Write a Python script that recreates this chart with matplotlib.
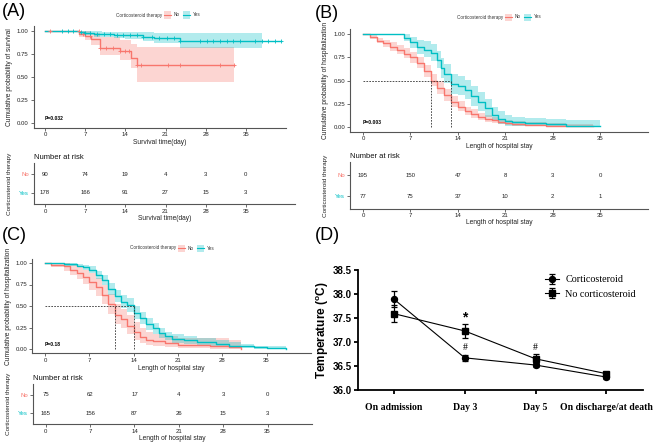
import matplotlib
matplotlib.use('Agg')
import matplotlib.pyplot as plt
import numpy as np
from matplotlib.lines import Line2D
from matplotlib.patches import Rectangle

# ---------------- data ----------------
RED = '#F8766D'
TEAL = '#00BFC4'
groups = ['No', 'Yes']
risk_days = [0, 7, 14, 21, 28, 35]

# Panel A: survival
a_no_t = [0, 6, 7, 8, 9.5, 13, 15, 16, 33]
a_no_s = [1.0, 0.965, 0.95, 0.91, 0.82, 0.78, 0.71, 0.63, 0.63]
a_no_lo = [1.0, 0.93, 0.90, 0.85, 0.74, 0.69, 0.60, 0.45, 0.45]
a_no_hi = [1.0, 1.0, 1.0, 0.98, 0.93, 0.90, 0.86, 0.83, 0.83]
a_no_cens = [0.9, 5.9, 6.6, 7.8, 9.6, 10.7, 11.9, 13.1, 13.9, 14.6, 16.0, 16.8, 21.5, 23.5, 30.5, 33]
a_yes_t = [0, 6, 7, 8.5, 10, 12, 14, 17, 19, 23.5, 41.2]
a_yes_s = [1.0, 0.99, 0.98, 0.97, 0.965, 0.96, 0.955, 0.94, 0.92, 0.89, 0.89]
a_yes_lo = [1.0, 0.97, 0.96, 0.94, 0.93, 0.92, 0.91, 0.89, 0.87, 0.81, 0.81]
a_yes_hi = [1.0, 1.0, 1.0, 0.995, 0.99, 0.99, 0.99, 0.985, 0.98, 0.98, 0.98]
a_yes_band_end = 37.8
a_yes_cens = [2.9, 3.95, 4.9, 6.2, 7.0, 7.8, 9.0, 10.2, 11.3, 12.5, 13.6, 14.8, 16.0, 17.1, 18.6,
              19.9, 21.2, 22.4, 23.5, 27.0, 28.2, 29.3, 30.5, 31.7, 32.8, 34.0, 36.6, 37.8, 38.9, 40.1, 41.2]
a_risk_no = [90, 74, 19, 4, 3, 0]
a_risk_yes = [178, 166, 91, 27, 15, 3]

# Panel B: hospitalization
b_no_t = [0, 1, 2, 3, 4, 5, 6, 7, 8, 9, 10, 11, 12, 13, 14, 15, 16, 17, 18, 19, 20, 21, 22, 24, 27, 30, 34]
b_no_s = [1.0, 0.97, 0.93, 0.90, 0.86, 0.83, 0.79, 0.75, 0.69, 0.60, 0.50, 0.42, 0.34, 0.27, 0.22, 0.17,
          0.14, 0.11, 0.09, 0.07, 0.05, 0.04, 0.03, 0.02, 0.015, 0.01, 0.005]
b_no_lo = [1.0, 0.95, 0.90, 0.86, 0.82, 0.78, 0.74, 0.69, 0.63, 0.54, 0.44, 0.36, 0.28, 0.22, 0.17, 0.13,
           0.10, 0.07, 0.05, 0.04, 0.03, 0.02, 0.01, 0.005, 0.003, 0.001, 0.0]
b_no_hi = [1.0, 0.99, 0.96, 0.94, 0.91, 0.88, 0.85, 0.81, 0.75, 0.67, 0.57, 0.49, 0.41, 0.33, 0.28, 0.22,
           0.19, 0.15, 0.13, 0.11, 0.09, 0.07, 0.06, 0.05, 0.04, 0.035, 0.03]
b_yes_t = [0, 6, 7, 8, 9, 10, 11, 11.5, 12, 13, 14, 15, 16, 17, 18, 19, 20, 21, 22, 24, 27, 30, 35]
b_yes_s = [1.0, 0.96, 0.91, 0.86, 0.83, 0.80, 0.72, 0.63, 0.57, 0.46, 0.44, 0.40, 0.33, 0.27, 0.20, 0.13,
           0.09, 0.06, 0.05, 0.04, 0.03, 0.015, 0.013]
b_yes_lo = [1.0, 0.92, 0.85, 0.79, 0.75, 0.71, 0.63, 0.53, 0.47, 0.36, 0.34, 0.30, 0.23, 0.17, 0.11, 0.06,
            0.03, 0.015, 0.01, 0.005, 0.002, 0.0, 0.0]
b_yes_hi = [1.0, 1.0, 0.97, 0.94, 0.92, 0.89, 0.82, 0.74, 0.68, 0.57, 0.55, 0.51, 0.44, 0.38, 0.30, 0.22,
            0.17, 0.13, 0.11, 0.10, 0.09, 0.07, 0.06]
b_medians = [10, 13]
b_risk_no = [195, 150, 47, 8, 3, 0]
b_risk_yes = [77, 75, 37, 10, 2, 1]

# Panel C: hospitalization
c_no_t = [0, 1, 3, 4, 5, 6, 7, 8, 9, 10, 11, 12, 13, 14, 15, 16, 17, 19, 21, 26, 29, 31]
c_no_s = [1.0, 0.98, 0.96, 0.92, 0.88, 0.84, 0.78, 0.72, 0.63, 0.52, 0.40, 0.35, 0.27, 0.20, 0.14, 0.11,
          0.09, 0.07, 0.05, 0.04, 0.02, 0.0]
c_no_lo = [1.0, 0.95, 0.91, 0.86, 0.81, 0.76, 0.69, 0.62, 0.52, 0.41, 0.29, 0.24, 0.17, 0.11, 0.07, 0.05,
           0.03, 0.02, 0.01, 0.005, 0.0, 0.0]
c_no_hi = [1.0, 1.0, 1.0, 0.98, 0.95, 0.92, 0.88, 0.83, 0.75, 0.64, 0.52, 0.47, 0.39, 0.31, 0.24, 0.20,
           0.17, 0.15, 0.13, 0.13, 0.11, 0.08]
c_yes_t = [0, 3, 5, 6, 7, 8, 9, 10, 11, 12, 13, 14, 15, 16, 17, 18, 19, 20, 22, 24, 27, 29, 31, 33, 35, 38]
c_yes_s = [1.0, 0.99, 0.97, 0.95, 0.92, 0.86, 0.80, 0.70, 0.62, 0.55, 0.51, 0.42, 0.36, 0.29, 0.24, 0.19,
           0.15, 0.12, 0.10, 0.08, 0.06, 0.04, 0.03, 0.02, 0.01, 0.005]
c_yes_lo = [1.0, 0.97, 0.95, 0.92, 0.88, 0.81, 0.74, 0.63, 0.55, 0.48, 0.43, 0.35, 0.29, 0.22, 0.18, 0.13,
            0.10, 0.07, 0.06, 0.04, 0.03, 0.015, 0.008, 0.003, 0.0, 0.0]
c_yes_hi = [1.0, 1.0, 0.99, 0.98, 0.96, 0.91, 0.86, 0.77, 0.69, 0.63, 0.59, 0.50, 0.43, 0.36, 0.30, 0.25,
            0.20, 0.17, 0.15, 0.13, 0.10, 0.08, 0.06, 0.04, 0.03, 0.02]
c_medians = [11, 14]
c_risk_no = [75, 62, 17, 4, 3, 0]
c_risk_yes = [165, 156, 87, 26, 15, 3]

# Panel D: temperature
d_categories = ['On admission', 'Day 3', 'Day 5', 'On discharge/at death']
d_cort_mean = [37.89, 36.67, 36.52, 36.27]
d_cort_err = [0.17, 0.06, 0.05, 0.04]
d_nocort_mean = [37.59, 37.23, 36.65, 36.34]
d_nocort_err = [0.18, 0.15, 0.09, 0.04]

# ---------------- layout helpers ----------------
W, H = 667, 442
fig = plt.figure(figsize=(6.67, 4.42), dpi=100)
SANS = ['Liberation Sans', 'DejaVu Sans']
SERIF = ['Liberation Serif', 'DejaVu Serif']
plt.rcParams['font.family'] = SANS


def box(l, t, r, b):
    return [l / W, 1 - b / H, (r - l) / W, (b - t) / H]


def fx(x):
    return x / W


def fy(y):
    return 1 - y / H


AX_COL = '#555555'


def style_km_axes(ax, xlim, ylim):
    ax.set_xlim(*xlim)
    ax.set_ylim(*ylim)
    for sp in ['top', 'right']:
        ax.spines[sp].set_visible(False)
    for sp in ['left', 'bottom']:
        ax.spines[sp].set_color(AX_COL)
        ax.spines[sp].set_linewidth(0.8)
    ax.tick_params(length=2, width=0.6, color=AX_COL, labelsize=4.3, pad=1.5, labelcolor='#222222')
    ax.set_xticks(risk_days)


def draw_km(ax, t, s, lo, hi, color, band_end=None):
    t = np.asarray(t, float)
    s = np.asarray(s, float)
    lo = np.asarray(lo, float)
    hi = np.asarray(hi, float)
    if band_end is not None:
        m = t < band_end
        bt = np.append(t[m], band_end)
        blo = np.append(lo[m], lo[m][-1])
        bhi = np.append(hi[m], hi[m][-1])
    else:
        bt, blo, bhi = t, lo, hi
    ax.fill_between(bt, blo, bhi, step='post', color=color, alpha=0.3, lw=0)
    ax.step(t, s, where='post', color=color, lw=1.0)


def censor(ax, t, s, ct, color):
    t = np.asarray(t, float)
    s = np.asarray(s, float)
    ct = np.asarray(ct, float)
    idx = np.searchsorted(t, ct, side='right') - 1
    ax.plot(ct, s[idx], '+', color=color, ms=3.2, mew=0.6, ls='none')


def km_legend(cx, y):
    fig.text(fx(cx - 2), fy(y), 'Corticosteroid therapy', fontsize=3.3, ha='right', va='center', color='#333333')
    x = cx
    for lab, col in zip(groups, [RED, TEAL]):
        fig.add_artist(Rectangle((fx(x), fy(y + 3.5)), 7 / W, 7 / H, transform=fig.transFigure,
                                 facecolor=col, alpha=0.3, edgecolor='none'))
        fig.add_artist(Line2D([fx(x), fx(x + 7)], [fy(y), fy(y)], transform=fig.transFigure, color=col, lw=0.8))
        fig.text(fx(x + 9.5), fy(y), lab, fontsize=3.3, ha='left', va='center', color='#333333')
        x += 19


def risk_table(rect, xlim, rno, ryes, xlabel):
    ax = fig.add_axes(rect)
    style_km_axes(ax, xlim, (2.6, 0.4))
    ax.set_yticks([1, 2])
    ax.set_yticklabels(groups)
    for lbl, col in zip(ax.get_yticklabels(), [RED, TEAL]):
        lbl.set_color(col)
    for d, v1, v2 in zip(risk_days, rno, ryes):
        ax.text(d, 1, str(v1), ha='center', va='center', fontsize=4.3, color='#222222')
        ax.text(d, 2, str(v2), ha='center', va='center', fontsize=4.3, color='#222222')
    ax.set_xlabel(xlabel, fontsize=4.8, labelpad=0.5, color='#222222')
    ax.set_ylabel('Corticosteroid therapy', fontsize=4.6, labelpad=5, color='#222222')
    ax.text(0, 1.06, 'Number at risk', transform=ax.transAxes, fontsize=5.5, ha='left', va='bottom', color='#111111')
    return ax


def pixlim(l, r, x0, s):
    return ((l - x0) / s, (r - x0) / s)


YLIM = (-0.05, 1.05)
YT = [0, 0.25, 0.5, 0.75, 1.0]
YTL = ['0.00', '0.25', '0.50', '0.75', '1.00']

# ---------------- Panel A ----------------
xlA = pixlim(33.5, 286, 45, 5.74)
axA = fig.add_axes(box(33.5, 26.4, 286, 127.6))
style_km_axes(axA, xlA, YLIM)
axA.set_yticks(YT)
axA.set_yticklabels(YTL)
draw_km(axA, a_no_t, a_no_s, a_no_lo, a_no_hi, RED)
draw_km(axA, a_yes_t, a_yes_s, a_yes_lo, a_yes_hi, TEAL, band_end=a_yes_band_end)
censor(axA, a_no_t, a_no_s, a_no_cens, RED)
censor(axA, a_yes_t, a_yes_s, a_yes_cens, TEAL)
axA.text(0, 0.05, 'P=0.032', fontsize=3.6, fontweight='bold', ha='left', va='center')
axA.set_xlabel('Survival time(day)', fontsize=4.8, labelpad=1, color='#222222')
axA.set_ylabel('Cumulative probability of survival', fontsize=4.8, labelpad=3, color='#222222')
km_legend(164, 15)
risk_table(box(33.5, 163, 295, 204), pixlim(33.5, 295, 45, 5.74), a_risk_no, a_risk_yes, 'Survival time(day)')
fig.text(fx(2), fy(12), '(A)', fontsize=13, ha='left', va='center')

# ---------------- Panel B ----------------
xlB = pixlim(350, 648, 363, 6.77)
axB = fig.add_axes(box(350, 29.4, 648, 131.6))
style_km_axes(axB, xlB, YLIM)
axB.set_yticks(YT)
axB.set_yticklabels(YTL)
draw_km(axB, b_no_t, b_no_s, b_no_lo, b_no_hi, RED)
draw_km(axB, b_yes_t, b_yes_s, b_yes_lo, b_yes_hi, TEAL)
axB.plot([0, max(b_medians)], [0.5, 0.5], color='#333333', lw=0.6, ls=(0, (2, 1.5)))
for m in b_medians:
    axB.plot([m, m], [0, 0.5], color='#333333', lw=0.6, ls=(0, (2, 1.5)))
axB.text(0, 0.05, 'P=0.003', fontsize=3.6, fontweight='bold', ha='left', va='center')
axB.set_xlabel('Length of hospital stay', fontsize=4.8, labelpad=1, color='#222222')
axB.set_ylabel('Cumulative probability of hospitalization', fontsize=4.8, labelpad=3, color='#222222')
km_legend(505, 17)
risk_table(box(350, 162.4, 648, 208.6), xlB, b_risk_no, b_risk_yes, 'Length of hospital stay')
fig.text(fx(315), fy(13), '(B)', fontsize=13, ha='left', va='center')

# ---------------- Panel C ----------------
xlC = pixlim(32.3, 311, 45, 6.33)
axC = fig.add_axes(box(32.3, 258.7, 311, 353.3))
style_km_axes(axC, xlC, YLIM)
axC.set_yticks(YT)
axC.set_yticklabels(YTL)
draw_km(axC, c_no_t, c_no_s, c_no_lo, c_no_hi, RED)
draw_km(axC, c_yes_t, c_yes_s, c_yes_lo, c_yes_hi, TEAL)
axC.plot([0, max(c_medians)], [0.5, 0.5], color='#333333', lw=0.6, ls=(0, (2, 1.5)))
for m in c_medians:
    axC.plot([m, m], [0, 0.5], color='#333333', lw=0.6, ls=(0, (2, 1.5)))
axC.text(0, 0.05, 'P=0.18', fontsize=3.6, fontweight='bold', ha='left', va='center')
axC.set_xlabel('Length of hospital stay', fontsize=4.8, labelpad=1, color='#222222')
axC.set_ylabel('Cumulative probability of hospitalization', fontsize=4.8, labelpad=3, color='#222222')
km_legend(178, 248)
risk_table(box(33, 384, 312, 424), xlC, c_risk_no, c_risk_yes, 'Length of hospital stay')
fig.text(fx(2), fy(235), '(C)', fontsize=13, ha='left', va='center')

# ---------------- Panel D ----------------
axD = fig.add_axes(box(358, 270, 643, 390))
xpos = np.arange(len(d_categories))
axD.errorbar(xpos, d_cort_mean, yerr=d_cort_err, color='black', marker='o', ms=4.3, lw=0.8,
             elinewidth=0.9, capsize=2.5, capthick=0.9, label='Corticosteroid')
axD.errorbar(xpos, d_nocort_mean, yerr=d_nocort_err, color='black', marker='s', ms=4.3, lw=0.8,
             elinewidth=0.9, capsize=2.5, capthick=0.9, label='No corticosteroid')
axD.set_xlim(-0.51, 3.52)
axD.set_ylim(36.0, 38.5)
axD.set_yticks([36.0, 36.5, 37.0, 37.5, 38.0, 38.5])
axD.set_yticklabels(['36.0', '36.5', '37.0', '37.5', '38.0', '38.5'], fontweight='bold', fontsize=7)
axD.set_xticks(xpos)
axD.set_xticklabels(d_categories, family=SERIF, fontweight='bold', fontsize=7)
for sp in ['top', 'right']:
    axD.spines[sp].set_visible(False)
for sp in ['left', 'bottom']:
    axD.spines[sp].set_linewidth(1.3)
axD.tick_params(length=3, width=1.3, pad=6)
axD.tick_params(axis='y', pad=1.5)
axD.set_ylabel('Temperature ($^{\\mathregular{o}}$C)', fontsize=8.5, fontweight='bold', labelpad=1)
axD.text(1, 37.52, '*', fontsize=10, ha='center', va='center', fontweight='bold')
axD.text(1, 36.88, '#', fontsize=7, ha='center', va='center', family=SERIF)
axD.text(2, 36.88, '#', fontsize=7, ha='center', va='center', family=SERIF)
axD.legend(loc='upper left', bbox_to_anchor=(fx(541), fy(271)), bbox_transform=fig.transFigure,
           frameon=False, prop={'family': SERIF, 'size': 7.3}, handlelength=1.4, handletextpad=0.6,
           labelspacing=0.55, borderaxespad=0)
fig.text(fx(315), fy(235), '(D)', fontsize=13, ha='left', va='center')

fig.savefig('out.png', dpi=100)
